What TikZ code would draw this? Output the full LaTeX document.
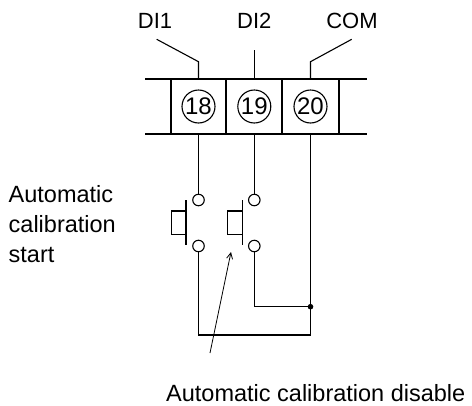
\documentclass[tikz,border=0pt]{standalone}
\usepackage{fontspec}
\setmainfont{Liberation Sans}
\usetikzlibrary{positioning}
\usetikzlibrary{arrows.meta}
\begin{document}
\begin{tikzpicture}[x=1pt,y=-1pt,
terminalnode/.style={circle, draw, line width=1.1pt, inner sep=0pt, minimum size=33pt, font=\fontsize{24}{24}\selectfont},
contactnode/.style={circle, draw, line width=1.1pt, inner sep=0pt, minimum size=11.5pt},
labelnode/.style={inner sep=0pt, align=left, font=\fontsize{23.5}{30}\selectfont},
signalnode/.style={inner sep=0pt, font=\fontsize{22}{22}\selectfont},
wire/.style={line width=1.1pt},
blockline/.style={line width=2pt},
]
\useasboundingbox (0,0) rectangle (472,405);

%Block
\coordinate (top) at (0,79);
\coordinate (bot) at (0,134);
\draw[blockline] (145,79) -- (367,79);
\draw[blockline] (145,134) -- (367,134);
\foreach \x in {170.7,226.3,282,338.7}
  \draw[blockline] (\x,79) -- (\x,134);

%Nodes
\node[terminalnode]  (t18)  at (198.5,106.5)  {18};
\node[terminalnode]  (t19)  at (254.3,106.5)  {19};
\node[terminalnode]  (t20)  at (310.5,106.5)  {20};
\node[signalnode, anchor=base]  (di1)  at (155,28.5)  {DI1};
\node[signalnode, anchor=base]  (di2)  at (254.3,28.5)  {DI2};
\node[signalnode, anchor=base]  (com)  at (352,28.5)  {COM};
\coordinate (lead18) at (156.7,39.3);
\coordinate (lead20) at (351.7,39.3);
\node[contactnode]  (s1top)  at (198.5,200)  {};
\node[contactnode]  (s1bot)  at (198.5,246)  {};
\node[contactnode]  (s2top)  at (254.3,200)  {};
\node[contactnode]  (s2bot)  at (254.3,246)  {};
\coordinate (junc) at (310.5,306.7);
\coordinate (loop) at (0,335);
\node[labelnode, anchor=north west]  (startlbl)  at (8.5,185)  {Automatic\\calibration\\start};
\node[labelnode, anchor=base west]  (disablelbl)  at (166,401)  {Automatic calibration disable};
\coordinate (tail) at (210,353);
\coordinate (head) at (231,252);

%Leads
\draw[wire] (t18 |- top) -- ++(0,-17.3) -- (lead18);
\draw[wire] (t19 |- top) -- ++(0,-29);
\draw[wire] (t20 |- top) -- ++(0,-17.3) -- (lead20);

%Buttons
\foreach \s/\bx in {1/186,2/242.3}{
  \draw[wire] (\bx,200) -- (\bx,245);
  \draw[wire] (\bx,211) rectangle (\bx-14.5,234.3);
}

%Lines
\draw[wire] (t18 |- bot) -- (s1top);
\draw[wire] (t19 |- bot) -- (s2top);
\draw[wire] (s1bot) -- (s1bot |- loop) -| (t20 |- bot);
\draw[wire] (s2bot) |- (junc);
\fill (junc) circle (2.8);
\draw[line width=0.8pt, -{Straight Barb[length=6pt,width=6pt]}] (tail) -- (head);
\end{tikzpicture}
\end{document}
